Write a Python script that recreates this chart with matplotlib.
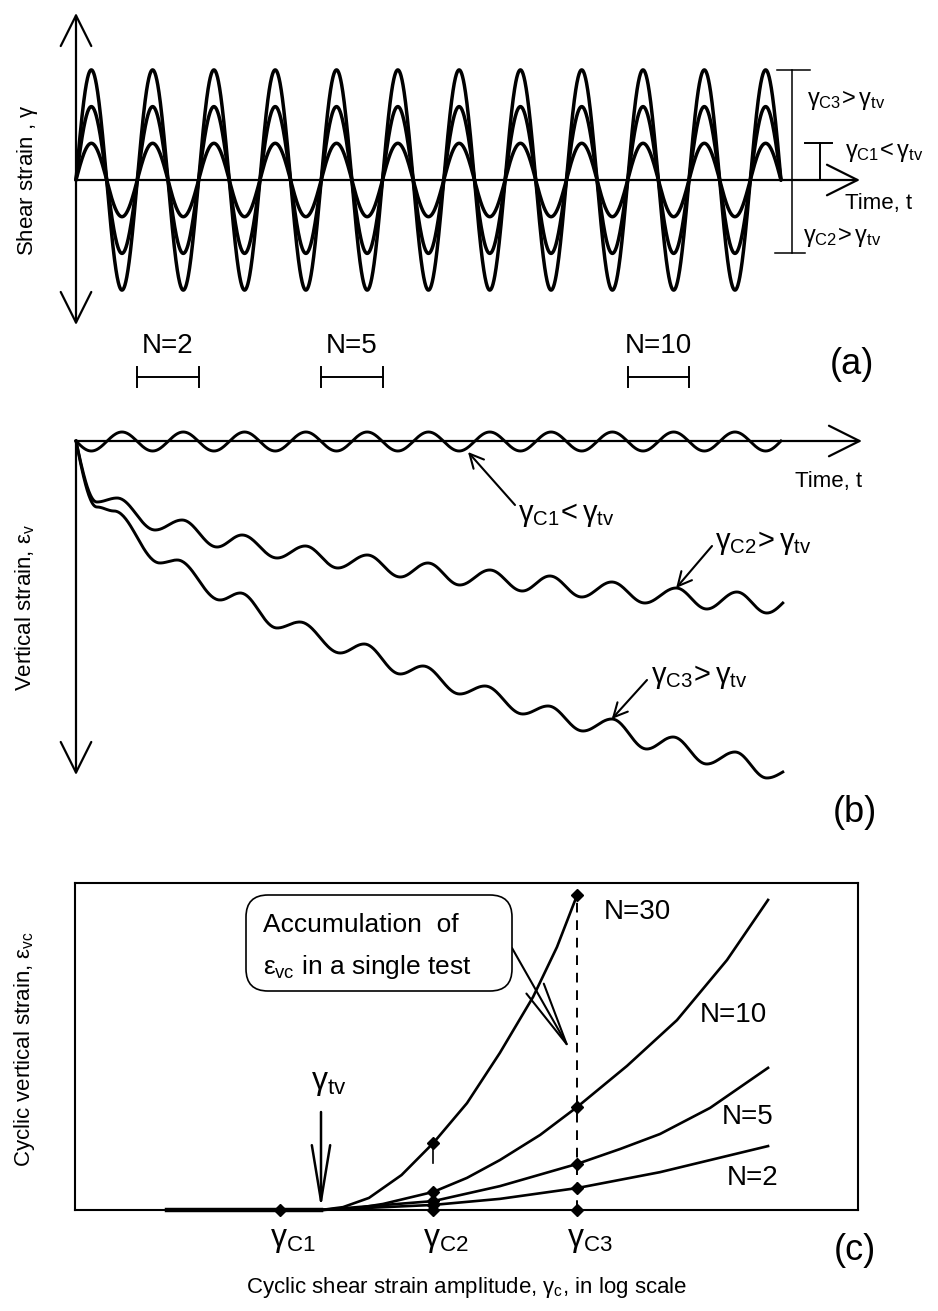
import numpy as np
import matplotlib
matplotlib.use('Agg')
import matplotlib.pyplot as plt
from matplotlib.patches import FancyBboxPatch
import matplotlib.transforms as mtransforms

plt.rcParams['font.family'] = ['Liberation Sans', 'DejaVu Sans']
plt.rcParams['mathtext.fontset'] = 'custom'
plt.rcParams['mathtext.rm'] = 'Liberation Sans'
plt.rcParams['mathtext.it'] = 'Liberation Sans'
plt.rcParams['mathtext.bf'] = 'Liberation Sans:bold'
plt.rcParams['mathtext.sf'] = 'Liberation Sans'

# ---------------------------------------------------------------- data
# (a) cyclic shear strain histories (amplitudes of gamma_c1, gamma_c2, gamma_c3)
shear_amplitudes = [1.0, 2.0, 3.0]
n_cycles_total = 11.5
cycle_marks = [2, 5, 10]
cycle_mark_labels = ['N=2', 'N=5', 'N=10']

# (b) vertical strain histories: turning points (time in cycles, vertical strain)
c1_trough = -0.10
c1_peak = 0.09
c2_time = [0, 0.34, 0.67, 1.29, 1.73, 2.30, 2.71, 3.28, 3.74, 4.27, 4.75, 5.29, 5.74,
           6.26, 6.75, 7.28, 7.73, 8.25, 8.74, 9.28, 9.79, 10.29, 10.78, 11.27, 11.53]
c2_strain = [0, -0.61, -0.57, -0.89, -0.79, -1.06, -0.94, -1.17, -1.05, -1.27, -1.14, -1.36,
             -1.22, -1.44, -1.29, -1.50, -1.35, -1.56, -1.41, -1.62, -1.47, -1.68, -1.51,
             -1.72, -1.62]
c3_time = [0, 0.34, 0.62, 1.37, 1.65, 2.35, 2.68, 3.28, 3.65, 4.31, 4.70, 5.29, 5.66,
           6.26, 6.67, 7.29, 7.70, 8.27, 8.74, 9.31, 9.74, 10.29, 10.75, 11.27, 11.53]
c3_strain = [0, -0.66, -0.70, -1.22, -1.19, -1.59, -1.52, -1.87, -1.81, -2.12, -2.03, -2.33,
             -2.25, -2.53, -2.45, -2.73, -2.65, -2.90, -2.78, -3.08, -2.96, -3.23, -3.11,
             -3.37, -3.31]

# (c) cyclic vertical strain vs cyclic shear strain amplitude (log scale)
gamma_tv = 0.0100
gamma_c = [0.0079, 0.0191, 0.0437]
N30_gamma = [0.00412, 0.0100, 0.01135, 0.01318, 0.01590, 0.0191, 0.02317, 0.0280, 0.0339,
             0.0389, 0.0437]
N30_eps = [0, 0, 0.009, 0.038, 0.110, 0.211, 0.336, 0.494, 0.670, 0.827, 0.991]
N10_gamma = [0.00412, 0.0100, 0.01230, 0.01429, 0.0191, 0.02317, 0.0280, 0.0353, 0.0437,
             0.0582, 0.0776, 0.1035, 0.1311]
N10_eps = [0, 0, 0.006, 0.019, 0.057, 0.101, 0.157, 0.236, 0.324, 0.453, 0.597, 0.786, 0.975]
N5_gamma = [0.00412, 0.0100, 0.0191, 0.0280, 0.0437, 0.0560, 0.0704, 0.0939, 0.1311]
N5_eps = [0, 0, 0.028, 0.075, 0.145, 0.192, 0.239, 0.321, 0.447]
N2_gamma = [0.00412, 0.0100, 0.0191, 0.0280, 0.0437, 0.0704, 0.1311]
N2_eps = [0, 0, 0.016, 0.035, 0.069, 0.119, 0.201]
curve_labels = ['N=30', 'N=10', 'N=5', 'N=2']

# ---------------------------------------------------------------- layout helpers
W, H = 938, 1311
fig = plt.figure(figsize=(W / 100, H / 100), dpi=100)

def px_axes(x0, y0, x1, y1):
    return fig.add_axes([x0 / W, 1 - y1 / H, (x1 - x0) / W, (y1 - y0) / H])

def ftext(x, y, s, **kw):
    kw.setdefault('ha', 'center')
    kw.setdefault('va', 'center')
    return fig.text(x / W, 1 - y / H, s, **kw)

def fpx(x, y):
    return (x, H - y)

X0, PXC = 76.0, 61.3          # time origin (px) and px per cycle
def t_of(px):
    return (px - X0) / PXC

AXC = dict(arrowstyle='->,head_length=1.1,head_width=0.55', lw=1.6, color='black',
           shrinkA=0, shrinkB=0, mutation_scale=20)
AXC2 = dict(arrowstyle='<->,head_length=1.1,head_width=0.55', lw=1.6, color='black',
            shrinkA=0, shrinkB=0, mutation_scale=20)

# ---------------------------------------------------------------- panel (a)
YA0, PXG = 180.0, 36.7
def g_of(py):
    return (YA0 - py) / PXG

ax_a = px_axes(0, 0, W, 400)
ax_a.set_xlim(t_of(0), t_of(W))
ax_a.set_ylim(g_of(400), g_of(0))
ax_a.axis('off')

tt = np.linspace(0, n_cycles_total, 3000)
for amp in shear_amplitudes:
    ax_a.plot(tt, amp * np.sin(2 * np.pi * tt), color='black', lw=2.5, solid_capstyle='round')

ax_a.annotate('', xy=(0, g_of(13)), xytext=(0, g_of(325)), arrowprops=AXC2)
ax_a.annotate('', xy=(t_of(860), 0), xytext=(0, 0), arrowprops=AXC)

# amplitude brackets on the right
xb = t_of(792)
ax_a.plot([xb, xb], [shear_amplitudes[2], -shear_amplitudes[1]], color='black', lw=1.1)
ax_a.plot([t_of(777), t_of(810)], [shear_amplitudes[2]] * 2, color='black', lw=1.1)
ax_a.plot([t_of(775), t_of(805)], [-shear_amplitudes[1]] * 2, color='black', lw=1.1)
xs_ = t_of(820)
ax_a.plot([xs_, xs_], [0, shear_amplitudes[0]], color='black', lw=1.4)
ax_a.plot([t_of(805), t_of(832)], [shear_amplitudes[0]] * 2, color='black', lw=1.4)

ftext(807, 100, r'$\gamma_{\rm C3}\!>\gamma_{\rm tv}$', fontsize=17, ha='left')
ftext(845, 152, r'$\gamma_{\rm C1}\!<\gamma_{\rm tv}$', fontsize=17, ha='left')
ftext(845, 203, 'Time, t', fontsize=16, ha='left')
ftext(803, 237, r'$\gamma_{\rm C2}\!>\gamma_{\rm tv}$', fontsize=17, ha='left')
ftext(28, 180, r'Shear strain , $\gamma$', fontsize=16, rotation=90)

# one-cycle markers
yb = g_of(377)
tick = 10 / PXG
for n, lab in zip(cycle_marks, cycle_mark_labels):
    ax_a.plot([n - 1, n], [yb, yb], color='black', lw=1.4)
    for xe in (n - 1, n):
        ax_a.plot([xe, xe], [yb - tick, yb + tick], color='black', lw=1.4)
    ax_a.text(n - 0.5, g_of(346), lab, fontsize=20, ha='center', va='center')
ftext(852, 365, '(a)', fontsize=26)

# ---------------------------------------------------------------- panel (b)
YB0, PXE = 441.0, 100.0
def e_of(py):
    return -(py - YB0) / PXE

ax_b = px_axes(0, 400, W, 790)
ax_b.set_xlim(t_of(0), t_of(W))
ax_b.set_ylim(e_of(790), e_of(400))
ax_b.axis('off')

def eased(t, v, n=40):
    xs, ys = [], []
    m = len(t) - 1
    for i in range(m):
        s = np.linspace(0, 1, n)
        if i == 0:
            w = np.sin(0.5 * np.pi * s)
        elif i == m - 1:
            w = 1 - np.cos(0.5 * np.pi * s)
        else:
            w = 0.5 * (1 - np.cos(np.pi * s))
        xs.append(t[i] + (t[i + 1] - t[i]) * s)
        ys.append(v[i] + (v[i + 1] - v[i]) * w)
    return np.concatenate(xs), np.concatenate(ys)

c1_time = [0.0]
c1_strain = [0.0]
for k in range(11):
    c1_time += [k + 0.25, k + 0.75]
    c1_strain += [c1_trough, c1_peak]
c1_time += [11.25, n_cycles_total]
c1_strain += [c1_trough, 0.0]

for tv, sv in ((c1_time, c1_strain), (c2_time, c2_strain), (c3_time, c3_strain)):
    x, y = eased(tv, sv)
    ax_b.plot(x, y, color='black', lw=2.1)

ax_b.annotate('', xy=(0, e_of(775)), xytext=(0, 0), arrowprops=AXC)
ax_b.annotate('', xy=(t_of(862), 0), xytext=(0, 0), arrowprops=AXC)

CALL = dict(arrowstyle='->,head_length=0.5,head_width=0.25', lw=1.5, color='black',
            shrinkA=0, shrinkB=0, mutation_scale=20)
ax_b.annotate('', xy=(t_of(468), -0.11), xytext=fpx(515, 505),
              textcoords='figure pixels', arrowprops=CALL)
ax_b.annotate('', xy=(c2_time[20], c2_strain[20]), xytext=fpx(712, 546),
              textcoords='figure pixels', arrowprops=CALL)
ax_b.annotate('', xy=(c3_time[18], c3_strain[18]), xytext=fpx(647, 680),
              textcoords='figure pixels', arrowprops=CALL)
ftext(518, 515, r'$\gamma_{\rm C1}\!<\gamma_{\rm tv}$', fontsize=21, ha='left')
ftext(715, 543, r'$\gamma_{\rm C2}\!>\gamma_{\rm tv}$', fontsize=21, ha='left')
ftext(651, 677, r'$\gamma_{\rm C3}\!>\gamma_{\rm tv}$', fontsize=21, ha='left')
ftext(795, 482, 'Time, t', fontsize=16, ha='left')
ftext(25, 608, r'Vertical strain, $\varepsilon_{\rm v}$', fontsize=16, rotation=90)
ftext(855, 812, '(b)', fontsize=26)

# ---------------------------------------------------------------- panel (c)
GX0, PXD = 321.0, 400.0
def gam_of(px):
    return gamma_tv * 10 ** ((px - GX0) / PXD)
EPX = 318.0

ax_c = px_axes(75, 883, 858, 1210)
ax_c.set_xscale('log')
ax_c.set_xlim(gam_of(75), gam_of(858))
ax_c.set_ylim(0, (1210 - 883) / EPX)
ax_c.set_xticks([])
ax_c.set_yticks([])
ax_c.xaxis.set_minor_locator(matplotlib.ticker.NullLocator())
for sp in ax_c.spines.values():
    sp.set_linewidth(1.5)

curves = [(N30_gamma, N30_eps), (N10_gamma, N10_eps), (N5_gamma, N5_eps), (N2_gamma, N2_eps)]
for g, e in curves:
    ax_c.plot(g, e, color='black', lw=1.9, clip_on=False, solid_joinstyle='round')
    g = np.array(g); e = np.array(e)
    sel = np.isclose(g, gamma_c[1]) | np.isclose(g, gamma_c[2])
    ax_c.plot(g[sel], e[sel], 'D', color='black', ms=6, clip_on=False)
ax_c.plot([N2_gamma[0], gamma_tv], [0, 0], color='black', lw=3.2, clip_on=False)
ax_c.plot(gamma_c, [0, 0, 0], 'D', color='black', ms=6, clip_on=False)

ax_c.plot([gamma_c[2], gamma_c[2]], [0, N30_eps[-1]], color='black', lw=1.4,
          linestyle=(0, (5, 4)))
ax_c.plot([gamma_c[1], gamma_c[1]], [N30_eps[5], N30_eps[5] - 20 / EPX], color='black', lw=1.2)

# threshold arrow
ax_c.annotate('', xy=(gamma_tv, 0.005), xytext=(gamma_tv, (1210 - 1112) / EPX),
              arrowprops=dict(arrowstyle='->,head_length=2.0,head_width=0.33', lw=1.8,
                              color='black', shrinkA=0, shrinkB=0, mutation_scale=20))
ftext(311, 1083, r'$\gamma_{\rm tv}$', fontsize=23, ha='left')

# curve labels
for lab, (x, y) in zip(curve_labels, [(637, 912), (733, 1015), (748, 1117), (753, 1178)]):
    ftext(x, y, lab, fontsize=20)

# gamma_c labels under the axis
for i, g in enumerate(gamma_c):
    ax_c.annotate(r'$\gamma_{\rm C%d}$' % (i + 1), xy=(g, 0), xycoords='data',
                  xytext=(-10, -30), textcoords='offset pixels', fontsize=23,
                  ha='left', va='center', annotation_clip=False)

# annotation box
box = FancyBboxPatch((246, H - 991), 266, 96, boxstyle='round,pad=0,rounding_size=22',
                     transform=mtransforms.IdentityTransform(), fc='white', ec='black',
                     lw=1.2, zorder=5)
fig.patches.append(box)
ftext(263, 925, 'Accumulation  of', fontsize=19, ha='left', zorder=6)
ftext(263, 967, r'$\varepsilon_{\rm vc}$ in a single test', fontsize=19, ha='left', zorder=6)
fig.add_artist(matplotlib.patches.FancyArrowPatch(
    fpx(512, 948), fpx(570, 1050), transform=mtransforms.IdentityTransform(),
    arrowstyle='->,head_length=2.3,head_width=0.36', lw=1.5, color='black',
    mutation_scale=20, shrinkA=0, shrinkB=0))

ftext(467, 1287, r'Cyclic shear strain amplitude, $\gamma_{\rm c}$, in log scale', fontsize=16)
ftext(25, 1049, r'Cyclic vertical strain, $\varepsilon_{\rm vc}$', fontsize=16, rotation=90)
ftext(855, 1251, '(c)', fontsize=26)

fig.savefig('out.png', dpi=100)
